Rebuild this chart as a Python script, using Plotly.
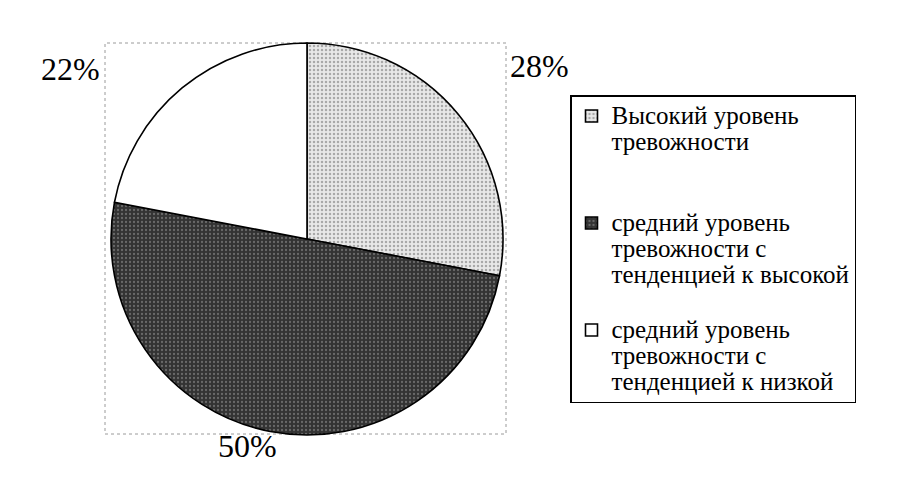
import plotly.graph_objects as go

# данные диаграммы
categories = [
    ["Высокий уровень", "тревожности"],
    ["средний уровень", "тревожности с", "тенденцией к высокой"],
    ["средний уровень", "тревожности с", "тенденцией к низкой"],
]
values = [28, 50, 22]
pct_text = [f"{v}%" for v in values]

W, H = 918, 478
OFF = 8  # отступ body у страницы

def px(x, y):
    # пиксели окна -> координаты paper
    return (x - OFF) / W, 1 - (y - OFF) / H

SERIF = "Liberation Serif"

# подписи легенды: крупнее шрифт, межстрочный интервал от базового размера
pad_lines = [2, 1, 0]
labels = []
for lines, pad in zip(categories, pad_lines):
    body = "<br>".join(f'<span style="font-size:25px">{s}</span>' for s in lines)
    labels.append(body + "<br> " * pad)

fig = go.Figure()

dx0, dy1 = px(107, 43)
dx1, dy0 = px(507, 435)
fig.add_trace(go.Pie(
    labels=labels,
    values=values,
    sort=False,
    direction="clockwise",
    rotation=0,
    textinfo="none",
    hoverinfo="percent",
    domain=dict(x=[dx0, dx1], y=[dy0, dy1]),
    marker=dict(
        colors=["#e8e8e8", "#333333", "#ffffff"],
        line=dict(color="#000000", width=1.6),
        pattern=dict(
            shape=[".", ".", ""],
            fgcolor=["#6a6a6a", "#a0a0a0", "#ffffff"],
            fillmode="overlay",
            size=4,
            solidity=[0.3, 0.25, 0.2],
        ),
    ),
))

# рамка области построения (пунктир)
x0, y1 = px(105, 43)
x1, y0 = px(506, 434)
fig.add_shape(type="rect", xref="paper", yref="paper", x0=x0, x1=x1, y0=y0, y1=y1,
              line=dict(color="#9a9a9a", width=1, dash="dot"), layer="below")

# подписи процентов
label_pos = [(539, 66), (247, 446), (70, 69)]
for t, (lx, ly) in zip(pct_text, label_pos):
    ax, ay = px(lx, ly)
    fig.add_annotation(x=ax, y=ay, xref="paper", yref="paper", text=t, showarrow=False,
                       font=dict(family=SERIF, size=32, color="#000"),
                       xanchor="center", yanchor="middle")

lx, ly = px(570, 95)
fig.update_layout(
    width=W, height=H,
    margin=dict(l=0, r=0, t=0, b=0),
    paper_bgcolor="#ffffff",
    plot_bgcolor="#ffffff",
    showlegend=True,
    legend=dict(
        x=lx, y=ly, xanchor="left", yanchor="top",
        bordercolor="#000000", borderwidth=1.5,
        bgcolor="#ffffff",
        valign="top",
        itemwidth=30,
        font=dict(family=SERIF, size=20, color="#000"),
    ),
)

fig.write_html("out.html")
